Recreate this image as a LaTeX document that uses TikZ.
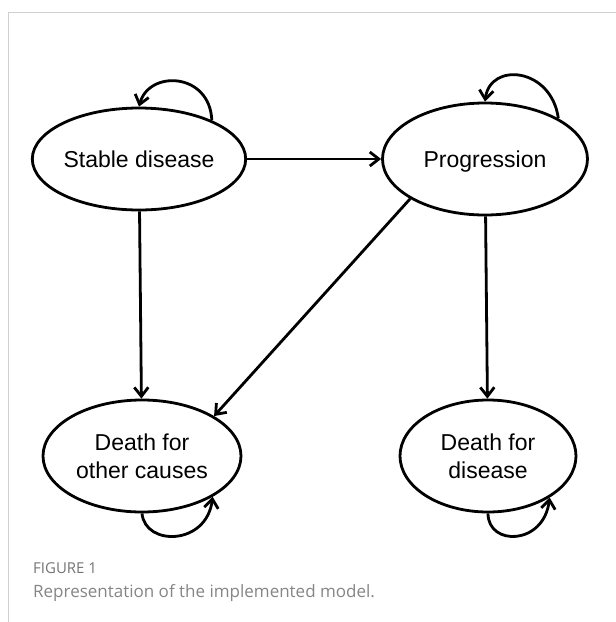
\documentclass[tikz,border=0pt]{standalone}
\usepackage{fontspec}
\setmainfont{Liberation Sans}
\newfontfamily\capfont{Open Sans}
\usetikzlibrary{arrows.meta,shapes.geometric}
\definecolor{capgray}{HTML}{858585}
\definecolor{figgray}{HTML}{747474}
\definecolor{framegray}{HTML}{D0D0D0}
\begin{document}
\begin{tikzpicture}[x=1pt,y=-1pt,
  state/.style={ellipse,draw=black,line width=2.8pt,inner sep=0pt,align=center,
    font=\fontsize{23}{28}\selectfont},
  oneline/.style={text height=16.5pt,text depth=0pt},
  arr/.style={line width=2.8pt,-{Straight Barb[length=9pt,width=14pt,line width=2.8pt]}},
  captext/.style={anchor=base west,inner sep=0pt}]
\useasboundingbox (0,0) rectangle (616,622);
\draw[framegray,line width=1pt] (8,622) -- (8,12) -- (616,12);

\node[state,oneline,minimum width=192pt,minimum height=102pt] (sd) at (139,159) {Stable disease};
\node[state,oneline,minimum width=205pt,minimum height=112pt] (pr) at (485,159) {Progression};
\node[state,minimum width=198pt,minimum height=112pt] (oc) at (142,456) {Death for\\other causes};
\node[state,minimum width=176pt,minimum height=112pt] (dd) at (488,456) {Death for\\disease};

\draw[arr] (sd) -- (pr);
\draw[arr] (sd) -- (oc);
\draw[arr] (pr.208) -- (oc.29);
\draw[arr] (pr) -- (dd);

\draw[arr] (sd.28) .. controls +(-2,-48) and +(10,-37) .. (sd.north);
\draw[arr] (pr.29) .. controls +(-7,-51) and +(5,-40) .. (pr.north);
\draw[arr] (oc.south) .. controls +(3,33) and +(-6,49) .. (oc.-30);
\draw[arr] (dd.south) .. controls +(0,33) and +(-6,48) .. (dd.-34);

\node[captext,text=figgray,font=\capfont\fontsize{15}{17}\selectfont] (fig) at (33,573) {FIGURE 1};
\node[captext,text=capgray,font=\capfont\fontsize{17}{20}\selectfont] (cap) at (33,597) {Representation of the implemented model.};
\end{tikzpicture}
\end{document}
